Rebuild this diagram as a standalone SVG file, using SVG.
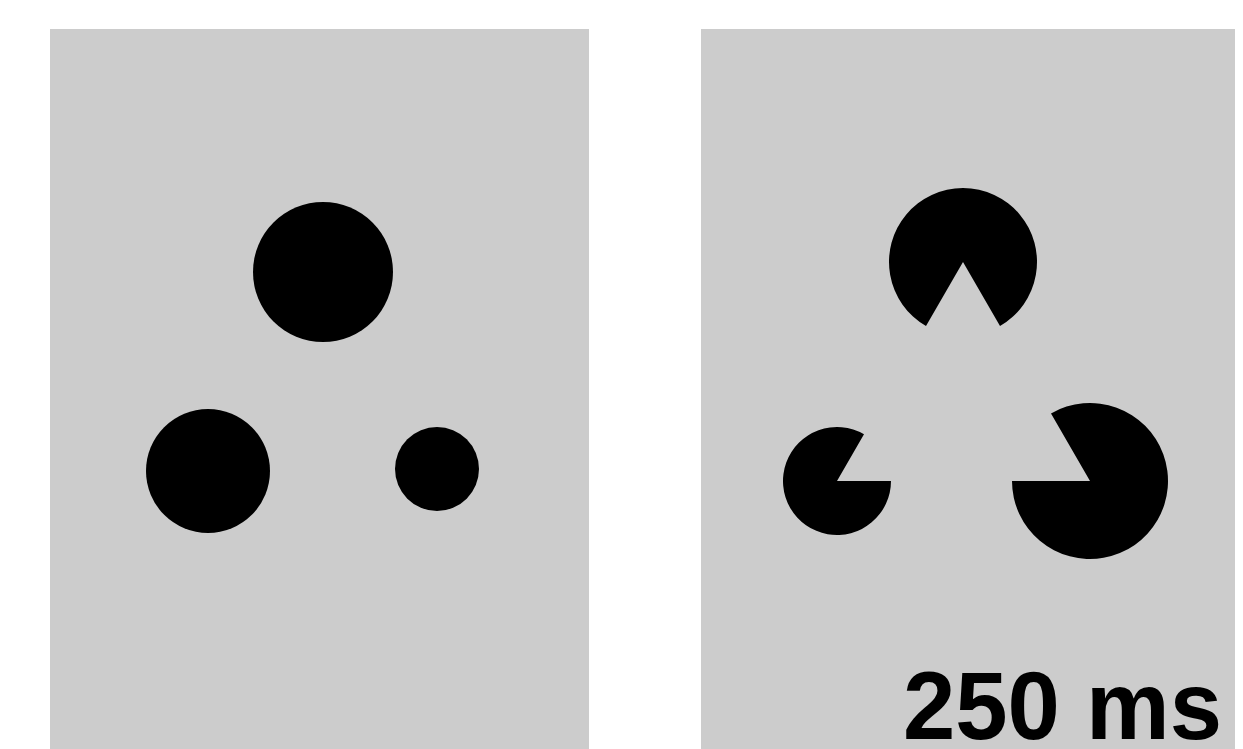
<svg xmlns="http://www.w3.org/2000/svg" width="1243" height="749" viewBox="0 0 1243 749">
  <style>
    .panel { fill: #cccccc; }
    .shape { fill: #000000; }
    .label { font-family: "Liberation Sans", Arial, sans-serif; font-weight: bold; font-size: 97px; fill: #000000; }
  </style>
  <rect width="1243" height="749" fill="#ffffff"/>
  <g id="panel-left">
    <rect class="panel" x="50" y="29" width="539" height="720"/>
    <circle class="shape" cx="323" cy="272" r="70"/>
    <circle class="shape" cx="208" cy="471" r="62"/>
    <circle class="shape" cx="437" cy="469" r="42"/>
  </g>
  <g id="panel-right">
    <rect class="panel" x="701" y="29" width="534" height="720"/>
    <path class="shape" d="M963,262 L1000,326.1 A74,74 0 1 0 926,326.1 Z"/>
    <path class="shape" d="M837,481 L891,481 A54,54 0 1 1 864,434.2 Z"/>
    <path class="shape" d="M1090,481 L1012,481 A78,78 0 1 0 1051,413.45 Z"/>
    <text class="label" x="903" y="739" textLength="319" lengthAdjust="spacingAndGlyphs">250 ms</text>
  </g>
</svg>
